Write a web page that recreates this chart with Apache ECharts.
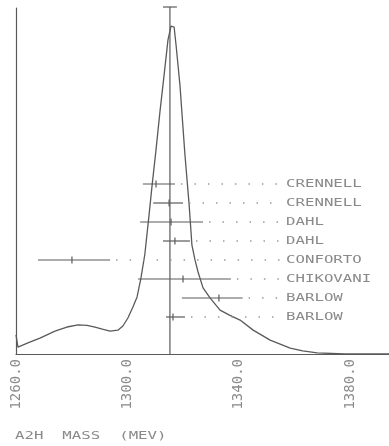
<!DOCTYPE html>
<html>
<head>
<meta charset="utf-8">
<script src="https://cdn.jsdelivr.net/npm/echarts@6/dist/echarts.min.js"></script>
<style>
html,body{margin:0;padding:0;background:#fff;}
#c{width:389px;height:446px;}
</style>
</head>
<body>
<div id="c"></div>
<script>
// ---- data ----
const experiments = ['CRENNELL','CRENNELL','DAHL','DAHL','CONFORTO','CHIKOVANI','BARLOW','BARLOW'];
const masses   = [1310.3, 1315.0, 1315.7, 1317.1, 1280.1, 1320.0, 1332.9, 1316.4];
const errMinus = [4.7, 5.7, 11.1, 4.3, 12.2, 16.2, 13.3, 2.5];
const errPlus  = [6.8, 5.0, 11.5, 5.4, 13.7, 17.2, 8.5, 4.3];
const meanMass = 1315.3;
const meanErr = 2.5;
const idMass = [1260.0,1260.7,1264.5,1268.6,1274.0,1278.3,1282.3,1285.5,1288.4,1291.0,1293.8,1296.6,1298.4,1300.2,1302.0,1303.5,1304.9,1306.3,1307.8,1308.9,1310.3,1311.7,1313.2,1314.6,1315.7,1316.1,1316.8,1317.5,1318.9,1320.7,1322.2,1323.2,1324.3,1325.4,1327.2,1329.7,1333.3,1336.5,1340.5,1345.2,1351.3,1358.5,1363.0,1368.2,1378.2,1394.0];
const idValue = [5.5,2.0,3.3,4.6,6.6,7.8,8.4,8.3,7.8,7.2,6.6,6.9,8.1,10.4,13.6,16.5,22.0,28.9,40.2,48.8,59.0,69.9,80.6,90.8,94.8,95.1,94.5,89.3,77.7,57.5,43.1,31.5,27.2,23.7,19.1,16.2,12.7,11.3,9.8,6.9,4.0,1.7,0.9,0.3,0.0,0.0];
const tickValues = [1260, 1300, 1340, 1380];
const axisTitle = 'A2H  MASS  (MEV)';

// ---- layout / style ----
const LINE = '#5a5a5a';
const TEXT = '#8a8a8a';
const ROW_Y0 = 184, ROW_STEP = 19;
const LABEL_X = 286;
const FONT = '11px "DejaVu Sans Mono"';
const SX = 1.43;

const chart = echarts.init(document.getElementById('c'), null, {renderer: 'canvas'});

const curve = idMass.map((m, i) => [m, idValue[i]]);
const rows = masses.map((m, i) => [m, errMinus[i], errPlus[i], i]);

function renderRow(params, api) {
  const m = api.value(0), lo = api.value(1), hi = api.value(2), i = api.value(3);
  const y = ROW_Y0 + i * ROW_STEP;
  const xc = api.coord([m, 0])[0];
  const xl = api.coord([m - lo, 0])[0];
  const xr = api.coord([m + hi, 0])[0];
  const ls = {stroke: LINE, lineWidth: 1.2};
  return {
    type: 'group',
    children: [
      {type: 'line', shape: {x1: xl, y1: y, x2: xr, y2: y}, style: ls},
      {type: 'line', shape: {x1: xc, y1: y - 3.5, x2: xc, y2: y + 3.5}, style: ls},
      {type: 'line', shape: {x1: xr + 6, y1: y, x2: LABEL_X - 3, y2: y},
        style: {stroke: '#9a9a9a', lineWidth: 1.3, lineDash: [1.5, 12]}},
      {type: 'text', x: LABEL_X, y: y, scaleX: SX,
        style: {text: experiments[i], fill: TEXT, font: FONT, verticalAlign: 'middle', align: 'left'}}
    ]
  };
}

function renderMean(params, api) {
  const m = api.value(0), e = api.value(1);
  const top = api.coord([m, 100]);
  const bot = api.coord([m, 0]);
  const l = api.coord([m - e, 100])[0];
  const r = api.coord([m + e, 100])[0];
  const ls = {stroke: LINE, lineWidth: 1.2};
  return {
    type: 'group',
    children: [
      {type: 'line', shape: {x1: top[0], y1: top[1] - 1, x2: bot[0], y2: bot[1]}, style: ls},
      {type: 'line', shape: {x1: l, y1: top[1] - 1, x2: r, y2: top[1] - 1}, style: ls}
    ]
  };
}

chart.setOption({
  animation: false,
  backgroundColor: '#fff',
  grid: {left: 16, right: 0, top: 8, bottom: 92, containLabel: false, outerBoundsMode: 'none'},
  xAxis: {
    type: 'value', min: 1260, max: 1394, interval: 40,
    axisLine: {show: true, lineStyle: {color: LINE, width: 1.2}},
    axisTick: {show: false},
    splitLine: {show: false},
    axisLabel: {
      rotate: 90, margin: 5, color: TEXT, fontFamily: 'DejaVu Sans Mono', fontSize: 14,
      showMaxLabel: false, showMinLabel: true,
      formatter: v => tickValues.indexOf(v) >= 0 ? v.toFixed(1) : ''
    }
  },
  yAxis: {
    type: 'value', min: 0, max: 100,
    axisLine: {show: true, lineStyle: {color: LINE, width: 1.2}},
    axisTick: {show: false}, axisLabel: {show: false}, splitLine: {show: false}
  },
  graphic: [{
    type: 'text', x: 15, y: 436, scaleX: SX,
    style: {text: axisTitle, fill: TEXT, font: FONT, verticalAlign: 'middle'}
  }],
  series: [
    {type: 'line', data: curve, showSymbol: false, smooth: false,
      lineStyle: {color: LINE, width: 1.3}, z: 3},
    {type: 'custom', data: [[meanMass, meanErr]], renderItem: renderMean, z: 4},
    {type: 'custom', data: rows, renderItem: renderRow, z: 5, clip: false}
  ]
});
</script>
</body>
</html>
